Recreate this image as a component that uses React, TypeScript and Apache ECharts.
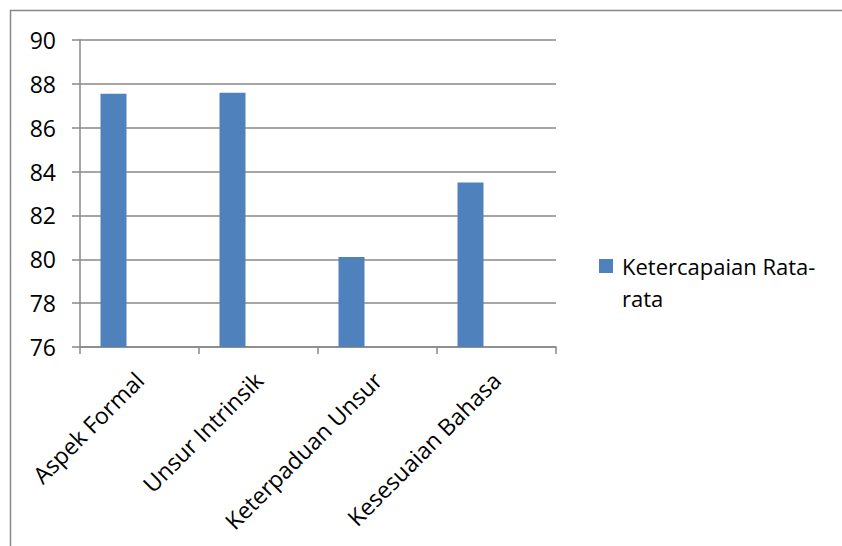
import React, { useEffect, useRef } from "react";
import * as echarts from "echarts";

const categories = ["Aspek Formal", "Unsur Intrinsik", "Keterpaduan Unsur", "Kesesuaian Bahasa"];
const values = [87.55, 87.6, 80.1, 83.5];
const seriesName = "Ketercapaian Rata-rata";
const yMin = 76;
const yMax = 90;
const yInterval = 2;

export default function App() {
  const ref = useRef<HTMLDivElement>(null);
  useEffect(() => {
    if (!ref.current) return;
    const chart = echarts.init(ref.current, null, { renderer: "svg" });
    const font = "'Open Sans', 'Noto Sans', sans-serif";
    chart.setOption({
      animation: false,
      backgroundColor: "#ffffff",
      textStyle: { fontFamily: font },
      graphic: [
        {
          type: "rect",
          shape: { x: 10.5, y: 10.5, width: 900, height: 600 },
          style: { fill: "none", stroke: "#888888", lineWidth: 1.5 },
          silent: true,
        },
      ],
      grid: { left: 80, right: 286, top: 40, bottom: 199 },
      legend: {
        left: 599,
        top: 218,
        orient: "vertical",
        itemWidth: 14,
        itemHeight: 14,
        itemGap: 0,
        padding: 0,
        icon: "rect",
        formatter: () => " \nKetercapaian Rata-\nrata",
        textStyle: {
          fontFamily: font,
          fontSize: 22,
          color: "#000",
          lineHeight: 32,
          padding: [0, 0, 0, 4],
        },
        data: [seriesName],
      },
      xAxis: {
        type: "category",
        data: categories,
        axisLine: { show: true, lineStyle: { color: "#888888", width: 1.5 } },
        axisTick: { show: true, length: 7, alignWithLabel: false, lineStyle: { color: "#888888", width: 1.5 } },
        axisLabel: {
          rotate: 45,
          interval: 0,
          margin: 29,
          fontSize: 23,
          fontFamily: font,
          color: "#000",
        },
      },
      yAxis: {
        type: "value",
        min: yMin,
        max: yMax,
        interval: yInterval,
        axisLine: { show: true, lineStyle: { color: "#888888", width: 1.5 } },
        axisTick: { show: true, length: 8, lineStyle: { color: "#888888", width: 1.5 } },
        splitLine: { show: true, lineStyle: { color: "#888888", width: 1.5 } },
        axisLabel: {
          margin: 24,
          fontSize: 23,
          fontFamily: font,
          color: "#000",
        },
      },
      series: [
        {
          name: seriesName,
          type: "bar",
          data: values,
          barWidth: 26,
          barGap: "100%",
          itemStyle: { color: "#4F81BD" },
        },
        {
          name: "slot",
          type: "bar",
          data: [],
          barWidth: 26,
          barGap: "100%",
        },
      ],
    });
    return () => chart.dispose();
  }, []);
  return (
    <div
      ref={ref}
      style={{ position: "fixed", left: 0, top: 0, width: 842, height: 546 }}
    />
  );
}
